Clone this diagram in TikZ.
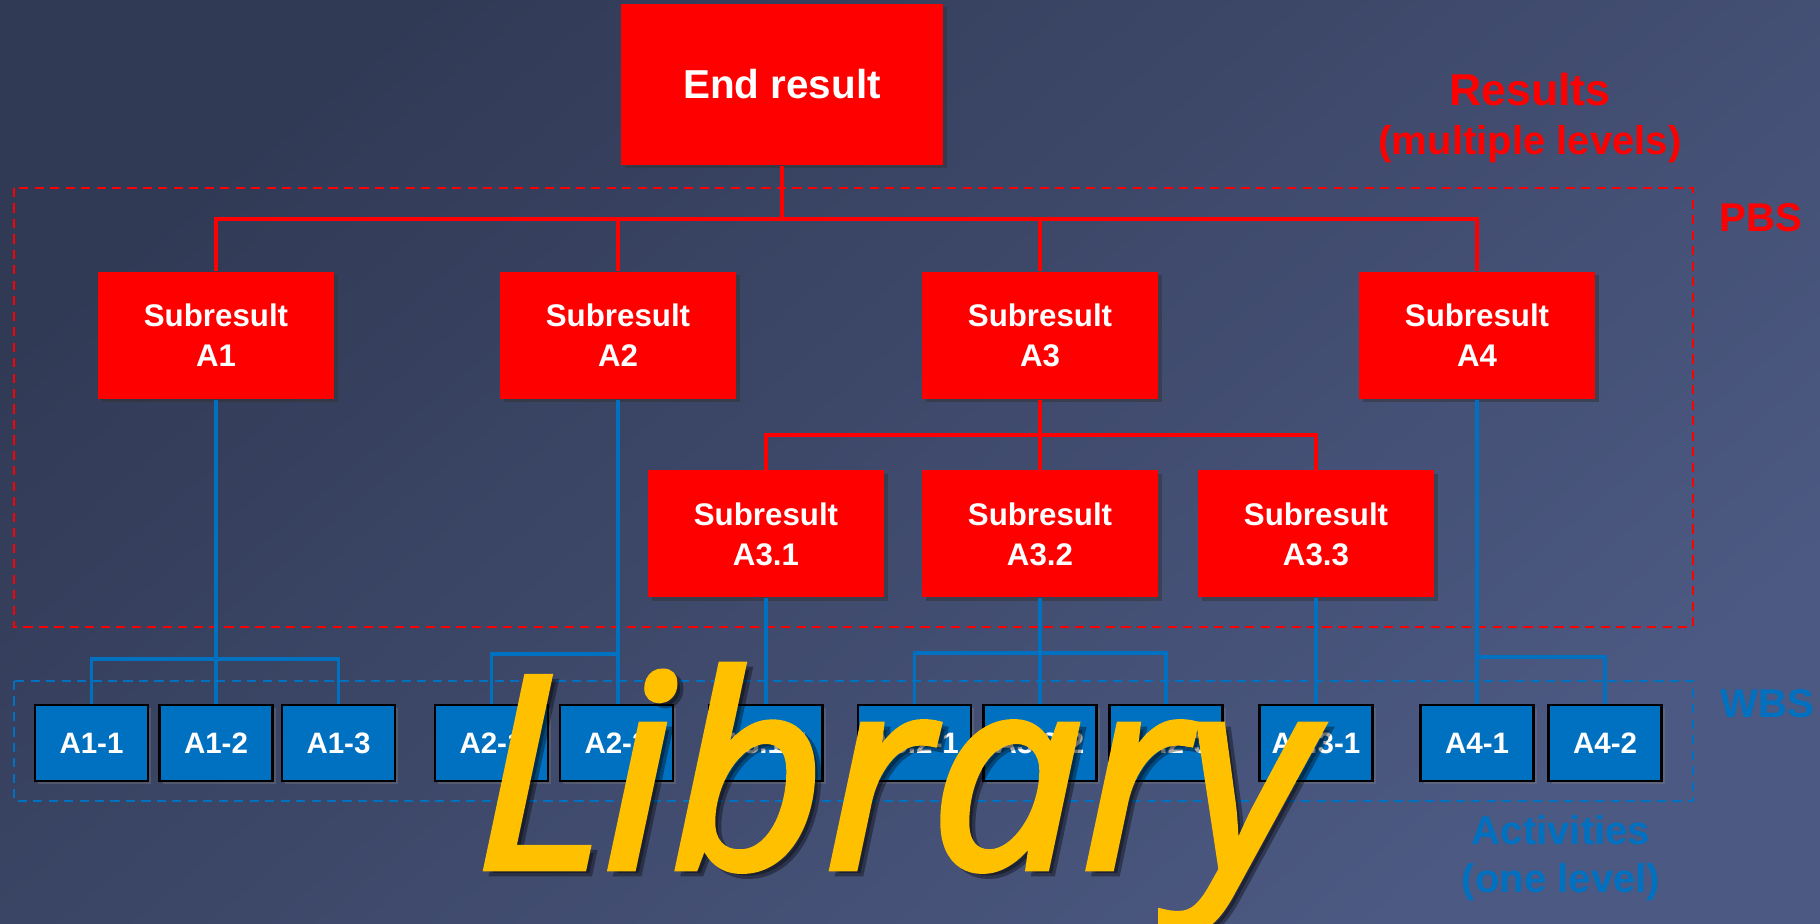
\documentclass[tikz,border=0pt]{standalone}
\usepackage{fontspec}
\setmainfont{Liberation Sans}
\newfontfamily\markfont[FakeBold=2.5]{Open Sans}
\usetikzlibrary{positioning,shadows,backgrounds}

\definecolor{pbsred}{RGB}{255,0,0}
\definecolor{wbsblue}{RGB}{0,112,192}
\definecolor{markyellow}{RGB}{255,192,0}
\definecolor{bgdark}{RGB}{49,58,85}
\definecolor{bglight}{RGB}{76,89,130}

\begin{document}
\begin{tikzpicture}[x=0.1mm, y=-0.1mm]
\tikzstyle{result} = [rectangle, fill=pbsred, text=white, align=center,
  inner sep=0pt, drop shadow={shadow xshift=0.35mm, shadow yshift=-0.35mm,
  opacity=0.5, fill=black!80}]
\tikzstyle{endbox} = [result, minimum width=32.2mm, minimum height=16.1mm,
  font=\fontsize{11.5}{13}\selectfont\bfseries]
\tikzstyle{subbox} = [result, minimum width=23.6mm, minimum height=12.7mm,
  font=\fontsize{8.9}{11.4}\selectfont\bfseries]
\tikzstyle{actbox} = [rectangle, fill=wbsblue, draw=black, line width=0.6pt,
  text=white, inner sep=0pt, minimum width=11.3mm, minimum height=7.6mm,
  font=\fontsize{8.4}{10}\selectfont\bfseries,
  drop shadow={shadow xshift=0.3mm, shadow yshift=-0.3mm, opacity=0.35}]
\tikzstyle{redline} = [draw=pbsred, line width=1pt]
\tikzstyle{blueline} = [draw=wbsblue, line width=0.9pt]
\tikzstyle{frame} = [line width=0.7pt, dash pattern=on 2.6pt off 1.8pt]
\tikzstyle{legend} = [anchor=base, font=\fontsize{11.4}{13.7}\selectfont\bfseries]
\tikzstyle{markstyle} = [anchor=base, inner sep=0pt,
  font=\markfont\itshape\fontsize{76}{80}\selectfont]

\useasboundingbox (0,0) rectangle (1820,924);
\shade[top color=bgdark, bottom color=bglight, shading angle=40]
  (0,0) rectangle (1820,924);

\draw[frame, pbsred] (14,188) rectangle (1693,627);
\draw[frame, wbsblue] (14,681) rectangle (1693,801);

\node[endbox] (endresult) at (782,84.5) {End result};

\node[subbox] (suba1) at (216,335.5) {Subresult\\A1};
\node[subbox] (suba2) at (618,335.5) {Subresult\\A2};
\node[subbox] (suba3) at (1040,335.5) {Subresult\\A3};
\node[subbox] (suba4) at (1477,335.5) {Subresult\\A4};

\node[subbox] (suba31) at (766,534) {Subresult\\A3.1};
\node[subbox] (suba32) at (1040,534) {Subresult\\A3.2};
\node[subbox] (suba33) at (1316,534) {Subresult\\A3.3};

\node[actbox] (act11) at (91.5,743) {A1-1};
\node[actbox] (act12) at (216,743) {A1-2};
\node[actbox] (act13) at (338.5,743) {A1-3};
\node[actbox] (act21) at (491.5,743) {A2-1};
\node[actbox] (act22) at (616.5,743) {A2-2};
\node[actbox] (act311) at (766,743) {A3.1-1};
\node[actbox] (act321) at (914.5,743) {A3.2-1};
\node[actbox] (act322) at (1040,743) {A3.2-2};
\node[actbox] (act323) at (1166,743) {A3.2-3};
\node[actbox] (act331) at (1316,743) {A3.3-1};
\node[actbox] (act41) at (1477,743) {A4-1};
\node[actbox] (act42) at (1605,743) {A4-2};

\coordinate (redbus) at (782,219);
\coordinate (a3bus) at (1040,435);
\draw[redline] (endresult.south) -- (redbus);
\draw[redline] (suba1.north) |- (redbus) -| (suba4.north);
\draw[redline] (suba2.north) -- (suba2.north |- redbus);
\draw[redline] (suba3.north) -- (suba3.north |- redbus);
\draw[redline] (suba3.south) -- (suba32.north);
\draw[redline] (suba31.north) |- (a3bus) -| (suba33.north);

\coordinate (a1bus) at (216,659);
\coordinate (a2bus) at (618,654);
\coordinate (a32bus) at (1040,653);
\coordinate (a4bus) at (1477,657);
\draw[blueline] (suba1.south) -- (act12.north);
\draw[blueline] (act11.north) |- (a1bus) -| (act13.north);
\draw[blueline] (suba2.south) -- (act22.north -| suba2.south);
\draw[blueline] (act21.north) |- (a2bus);
\draw[blueline] (suba31.south) -- (act311.north);
\draw[blueline] (suba32.south) -- (act322.north);
\draw[blueline] (act321.north) |- (a32bus) -| (act323.north);
\draw[blueline] (suba33.south) -- (act331.north);
\draw[blueline] (suba4.south) -- (act41.north);
\draw[blueline] (act42.north) |- (a4bus);

\node[anchor=base, text=pbsred, font=\fontsize{12.7}{14}\selectfont\bfseries]
  (results) at (1530,106) {Results};
\node[legend, text=pbsred] (resultsnote) at (1530,155) {(multiple levels)};
\node[legend, text=pbsred] (pbs) at (1761,232) {PBS};
\node[legend, text=wbsblue] (wbs) at (1767,718) {WBS};
\node[legend, text=wbsblue] (activities) at (1561,845) {Activities};
\node[legend, text=wbsblue] (activitiesnote) at (1561,893) {(one level)};

\node[markstyle, text=black, opacity=0.35] (markshadow) at (899,873) {Library};
\node[markstyle, text=markyellow] (watermark) at (893,868) {Library};
\end{tikzpicture}
\end{document}
